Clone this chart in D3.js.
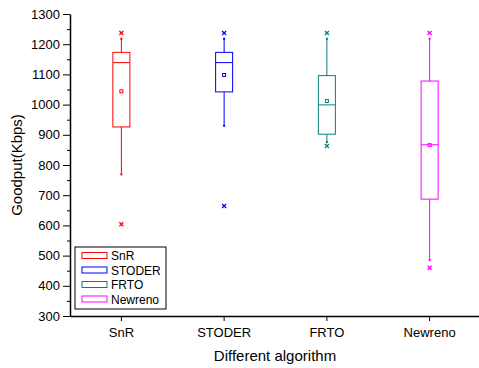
<!DOCTYPE html>
<html>
<head>
    <title>goodput box plot</title>
    <script src="https://d3js.org/d3.v7.min.js"></script>
    <style>
        body { margin: 0; background: #fff; }
        svg text { font-family: Arial, "Liberation Sans", sans-serif; fill: #000; }
    </style>
</head>
<body>
    <svg id="box-viz" width="479" height="368"></svg>

    <script>
    // data (Kbps)
    var categories  = ["SnR", "STODER", "FRTO", "Newreno"];
    var maxVals     = [1237, 1237, 1237, 1237];
    var whiskerHigh = [1218, 1218, 1218, 1218];
    var q3Vals      = [1173, 1173, 1096, 1078];
    var medianVals  = [1139, 1139, 999, 867];
    var meanVals    = [1044, 1098, 1012, 866];
    var q1Vals      = [926, 1042, 902, 687];
    var whiskerLow  = [769, 930, 876, 485];
    var minVals     = [604, 664, 863, 460];
    var colors      = ["#ff0000", "#0000ff", "#0a7f7f", "#ff00ff"];
    var yTicks      = [300, 400, 500, 600, 700, 800, 900, 1000, 1100, 1200, 1300];

    var plotLeft = 70, plotRight = 481, plotTop = 14, plotBottom = 316;

    var svg = d3.select('#box-viz');

    var xScale = d3.scaleBand()
        .domain(categories)
        .range([plotLeft, plotRight]);

    var yScale = d3.scaleLinear()
        .domain([300, 1300])
        .range([plotBottom, plotTop]);

    // y axis, minor ticks first
    svg.append('g')
        .attr('transform', `translate(${plotLeft}, 0)`)
        .call(d3.axisLeft(yScale).tickValues(d3.range(350, 1300, 100)).tickSize(3).tickFormat(''))
        .call(function(g) { g.select('.domain').remove(); });

    var yAxis = svg.append('g')
        .attr('transform', `translate(${plotLeft}, 0)`)
        .call(d3.axisLeft(yScale).tickValues(yTicks).tickSize(7).tickSizeOuter(0).tickPadding(3).tickFormat(d3.format('d')));
    yAxis.selectAll('text').style('font-size', '13px');
    yAxis.select('.domain').attr('stroke-width', 1.5);

    var xAxis = svg.append('g')
        .attr('transform', `translate(0, ${plotBottom})`)
        .call(d3.axisBottom(xScale).tickSize(5).tickSizeOuter(0).tickPadding(7));
    xAxis.selectAll('text').style('font-size', '13px');
    xAxis.select('.domain').attr('stroke-width', 1.5);

    svg.append('text')
        .attr('x', 275)
        .attr('y', 361)
        .attr('text-anchor', 'middle')
        .style('font-size', '15px')
        .text('Different algorithm');

    svg.append('text')
        .attr('transform', 'translate(22, 165) rotate(-90)')
        .attr('text-anchor', 'middle')
        .style('font-size', '15px')
        .text('Goodput(Kbps)');

    var boxW = 17;
    var rows = categories.map(function(c, i) {
        return { name: c, max: maxVals[i], hi: whiskerHigh[i], q3: q3Vals[i], med: medianVals[i],
                 mean: meanVals[i], q1: q1Vals[i], lo: whiskerLow[i], min: minVals[i], color: colors[i] };
    });

    var boxes = svg.selectAll('.box').data(rows).enter()
        .append('g')
        .attr('class', 'box')
        .attr('transform', function(d) { return `translate(${xScale(d.name) + xScale.bandwidth() / 2}, 0)`; })
        .attr('stroke', function(d) { return d.color; })
        .attr('fill', 'none');

    boxes.append('line')
        .attr('y1', function(d) { return yScale(d.hi); })
        .attr('y2', function(d) { return yScale(d.q3); });
    boxes.append('line')
        .attr('y1', function(d) { return yScale(d.q1); })
        .attr('y2', function(d) { return yScale(d.lo); });
    boxes.append('line')
        .attr('x1', -1).attr('x2', 1)
        .attr('y1', function(d) { return yScale(d.hi); })
        .attr('y2', function(d) { return yScale(d.hi); })
        .attr('stroke-width', 2);
    boxes.append('line')
        .attr('x1', -1).attr('x2', 1)
        .attr('y1', function(d) { return yScale(d.lo); })
        .attr('y2', function(d) { return yScale(d.lo); })
        .attr('stroke-width', 2);

    boxes.append('rect')
        .attr('x', -boxW / 2)
        .attr('width', boxW)
        .attr('y', function(d) { return yScale(d.q3); })
        .attr('height', function(d) { return yScale(d.q1) - yScale(d.q3); });

    boxes.append('line')
        .attr('x1', -boxW / 2).attr('x2', boxW / 2)
        .attr('y1', function(d) { return yScale(d.med); })
        .attr('y2', function(d) { return yScale(d.med); });

    boxes.append('rect')
        .attr('x', -1.5).attr('width', 3)
        .attr('y', function(d) { return yScale(d.mean) - 1.5; })
        .attr('height', 3);

    // max / min crosses
    ['max', 'min'].forEach(function(k) {
        boxes.append('path')
            .attr('d', function(d) {
                var y = yScale(d[k]);
                return `M-2,${y - 2}L2,${y + 2}M-2,${y + 2}L2,${y - 2}`;
            })
            .attr('stroke-width', 1.3);
    });

    // legend
    var legend = svg.append('g').attr('transform', 'translate(75, 247)');
    legend.append('rect')
        .attr('width', 91).attr('height', 62)
        .attr('fill', '#fff').attr('stroke', '#000').attr('stroke-width', 1);

    var items = legend.selectAll('.item').data(rows).enter()
        .append('g')
        .attr('transform', function(d, i) { return `translate(0, ${8.5 + i * 14.5})`; });
    items.append('rect')
        .attr('x', 7).attr('y', -3).attr('width', 25).attr('height', 6)
        .attr('fill', 'none')
        .attr('stroke', function(d) { return d.color; });
    items.append('text')
        .attr('x', 36).attr('y', 4.5)
        .style('font-size', '12px')
        .text(function(d) { return d.name; });
    </script>
</body>
</html>
